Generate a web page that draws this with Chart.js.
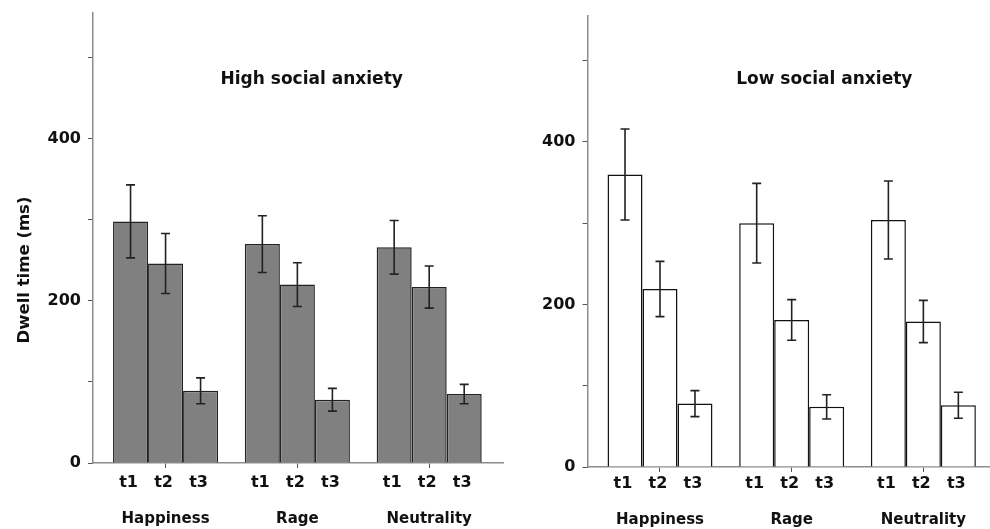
<!DOCTYPE html>
<html>
<head>
<meta charset="utf-8">
<script src="https://cdn.jsdelivr.net/npm/chart.js@4.4.1/dist/chart.umd.min.js"></script>
<style>
  html, body { margin: 0; padding: 0; background: #fff; }
  #wrap { position: relative; width: 990px; height: 529px; overflow: hidden; }
  .panel { position: absolute; top: 0; height: 529px; }
  #left { left: 0; width: 505px; }
  #right { left: 505px; width: 485px; }
</style>
</head>
<body>
<div id="wrap">
  <div class="panel" id="left"><canvas id="highChart"></canvas></div>
  <div class="panel" id="right"><canvas id="lowChart"></canvas></div>
</div>
<script>
// categories and time windows
const emotions = ['Happiness', 'Rage', 'Neutrality'];
const times = ['t1', 't2', 't3'];
const yLabels = [0, 200, 400];

// High social anxiety - mean dwell time (ms), one array per time window
const highT1 = [298, 270, 266];
const highT2 = [246, 220, 217];
const highT3 = [89, 78, 85];
const highErrT1 = [45, 35, 33];
const highErrT2 = [37, 27, 26];
const highErrT3 = [16, 14, 12];

// Low social anxiety
const lowT1 = [360, 300, 304];
const lowT2 = [219, 181, 179];
const lowT3 = [78, 74, 76];
const lowErrT1 = [56, 49, 48];
const lowErrT2 = [34, 25, 26];
const lowErrT3 = [16, 15, 16];

Chart.defaults.font.family = "'DejaVu Sans', sans-serif";
Chart.defaults.font.weight = 'bold';
Chart.defaults.color = '#111';

// error bars from the y scale
const errorBars = {
    id: 'errorBars',
    afterDatasetsDraw(chart) {
        const ctx = chart.ctx;
        const yScale = chart.scales.y;
        ctx.save();
        ctx.strokeStyle = '#222';
        ctx.lineWidth = 1.6;
        chart.data.datasets.forEach((ds, di) => {
            const meta = chart.getDatasetMeta(di);
            meta.data.forEach((bar, i) => {
                const v = ds.data[i].y;
                const e = ds.errors[i];
                const top = yScale.getPixelForValue(v + e);
                const bot = yScale.getPixelForValue(v - e);
                const x = bar.x;
                ctx.beginPath();
                ctx.moveTo(x, top); ctx.lineTo(x, bot);
                ctx.moveTo(x - 4.5, top); ctx.lineTo(x + 4.5, top);
                ctx.moveTo(x - 4.5, bot); ctx.lineTo(x + 4.5, bot);
                ctx.stroke();
            });
        });
        ctx.restore();
    }
};

// t1/t2/t3 under each bar, panel title, y title
const panelText = {
    id: 'panelText',
    afterDraw(chart, args, opts) {
        const ctx = chart.ctx;
        const area = chart.chartArea;
        ctx.save();
        ctx.fillStyle = '#111';
        ctx.textAlign = 'center';
        ctx.textBaseline = 'middle';
        ctx.font = "bold 16px 'DejaVu Sans'";
        chart.data.datasets.forEach((ds, di) => {
            chart.getDatasetMeta(di).data.forEach(bar => {
                ctx.fillText(ds.label, bar.x - 2, area.bottom + opts.timeOffset);
            });
        });
        ctx.textBaseline = 'alphabetic';
        ctx.font = "bold 17px 'DejaVu Sans'";
        ctx.fillText(opts.title, opts.titleX, opts.titleY);
        if (opts.yTitle) {
            ctx.font = "bold 16.5px 'DejaVu Sans'";
            ctx.translate(28.5, 270);
            ctx.rotate(-Math.PI / 2);
            ctx.fillText(opts.yTitle, 0, 0);
        }
        ctx.restore();
    }
};

function makeSets(series, errs, fill, border) {
    return series.map((vals, k) => ({
        label: times[k],
        data: vals.map((v, i) => ({ x: i + 1, y: v })),
        errors: errs[k],
        backgroundColor: fill,
        borderColor: border,
        borderWidth: 1.5
    }));
}

function makeChart(id, sets, p) {
    return new Chart(document.getElementById(id), {
        type: 'bar',
        data: { datasets: sets },
        plugins: [errorBars, panelText],
        options: {
            responsive: true,
            maintainAspectRatio: false,
            animation: false,
            categoryPercentage: 0.797,
            barPercentage: 1,
            layout: { padding: { top: p.top, right: p.right, left: 0, bottom: 0 } },
            plugins: {
                legend: { display: false },
                tooltip: { enabled: false },
                panelText: p.text
            },
            scales: {
                x: {
                    type: 'linear',
                    min: p.xMin,
                    max: p.xMax,
                    offset: false,
                    afterBuildTicks: s => { s.ticks = emotions.map((_, i) => ({ value: i + 1 })); },
                    afterFit: s => { s.height = p.xHeight; s.paddingLeft = 0; s.paddingRight = 0; },
                    ticks: {
                        callback: v => emotions[v - 1] || '',
                        font: { size: 15, weight: 'bold' },
                        padding: p.labelPad,
                        maxRotation: 0,
                        autoSkip: false
                    },
                    grid: { drawOnChartArea: false, offset: false, tickLength: 5, color: '#555' },
                    border: { color: '#8c8c8c', width: 1.5 }
                },
                y: {
                    min: 0,
                    max: 555,
                    afterFit: s => { s.width = p.yWidth; s.paddingTop = 0; s.paddingBottom = 0; },
                    ticks: {
                        stepSize: 100,
                        includeBounds: false,
                        callback: v => yLabels.includes(v) ? v : '',
                        font: { size: 16, weight: 'bold' },
                        padding: 7
                    },
                    grid: { drawOnChartArea: false, tickLength: 5, color: '#555' },
                    border: { color: '#8c8c8c', width: 1.5 }
                }
            }
        }
    });
}

makeChart('highChart',
    makeSets([highT1, highT2, highT3], [highErrT1, highErrT2, highErrT3], '#808080', '#222'),
    {
        top: 13, right: 2, xHeight: 66, yWidth: 93, labelPad: 42,
        xMin: 0.4495, xMax: 3.56,
        text: { title: 'High social anxiety', titleX: 311.7, titleY: 83.5, yTitle: 'Dwell time (ms)', timeOffset: 20 }
    });

makeChart('lowChart',
    makeSets([lowT1, lowT2, lowT3], [lowErrT1, lowErrT2, lowErrT3], '#ffffff', '#111'),
    {
        top: 16, right: 0, xHeight: 62, yWidth: 82.5, labelPad: 39,
        xMin: 0.4495, xMax: 3.506,
        text: { title: 'Low social anxiety', titleX: 319.3, titleY: 84.3, yTitle: null, timeOffset: 17 }
    });
</script>
</body>
</html>
